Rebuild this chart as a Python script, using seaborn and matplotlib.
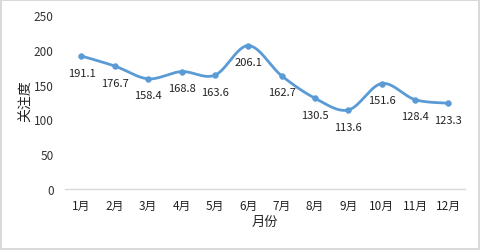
import numpy as np
import pandas as pd
import matplotlib
matplotlib.use("Agg")
import matplotlib.pyplot as plt
import seaborn as sns

months = ["1月", "2月", "3月", "4月", "5月", "6月", "7月", "8月", "9月", "10月", "11月", "12月"]
values = [191.1, 176.7, 158.4, 168.8, 163.6, 206.1, 162.7, 130.5, 113.6, 151.6, 128.4, 123.3]
y_ticks = [0, 50, 100, 150, 200, 250]

sns.set_theme(style="white")
plt.rcParams['font.family'] = ['Noto Sans CJK SC', 'DejaVu Sans']

color = "#5B9BD5"
fig = plt.figure(figsize=(4.8, 2.51), dpi=100, edgecolor="#d9d9d9", linewidth=1.5)
ax = fig.add_axes([0.135, 0.243, 0.834, 0.693])

x = np.arange(len(values), dtype=float)
y = np.array(values, dtype=float)

# smooth (Excel-style Bezier) curve through the data points
xs, ys = [], []
t = np.linspace(0, 1, 30)
for i in range(len(x) - 1):
    p0 = np.array([x[max(i - 1, 0)], y[max(i - 1, 0)]])
    p1 = np.array([x[i], y[i]])
    p2 = np.array([x[i + 1], y[i + 1]])
    p3 = np.array([x[min(i + 2, len(x) - 1)], y[min(i + 2, len(x) - 1)]])
    c1 = p1 + (p2 - p0) / 6
    c2 = p2 - (p3 - p1) / 6
    for tt in t:
        b = ((1 - tt) ** 3) * p1 + 3 * ((1 - tt) ** 2) * tt * c1 + 3 * (1 - tt) * tt ** 2 * c2 + tt ** 3 * p2
        xs.append(b[0]); ys.append(b[1])
curve = pd.DataFrame({"x": xs, "y": ys})
sns.lineplot(data=curve, x="x", y="y", ax=ax, color=color, linewidth=2, sort=False)

df = pd.DataFrame({"x": x, "y": y})
sns.scatterplot(data=df, x="x", y="y", ax=ax, color=color, s=18, edgecolor=color, zorder=3)

for xi, yi in zip(x, y):
    ax.annotate(f"{yi:.1f}", (xi, yi), xytext=(0, -12), textcoords="offset points",
                ha="center", va="center", fontsize=8, color="#222222")

ax.set_xlim(-0.5, len(values) - 0.5)
ax.set_ylim(0, 250)
ax.set_yticks(y_ticks)
ax.set_yticklabels([str(v) for v in y_ticks], fontsize=8.5, color="#333333")
ax.set_xticks(x)
ax.set_xticklabels(months, fontsize=8.5, color="#222222")
ax.tick_params(axis="x", length=0, pad=7)
ax.tick_params(axis="y", length=0, pad=8)
for s in ["top", "right", "left"]:
    ax.spines[s].set_visible(False)
ax.spines["bottom"].set_color("#d9d9d9")
ax.spines["bottom"].set_linewidth(1)
ax.set_xlabel("月份", fontsize=9.5, color="#222222", labelpad=2)
ax.set_ylabel("关注度", fontsize=10, color="#222222", labelpad=3)
ax.yaxis.set_label_coords(-0.08, 0.51)
ax.grid(False)

fig.savefig("out.png", dpi=100, edgecolor=fig.get_edgecolor(), facecolor="white")
